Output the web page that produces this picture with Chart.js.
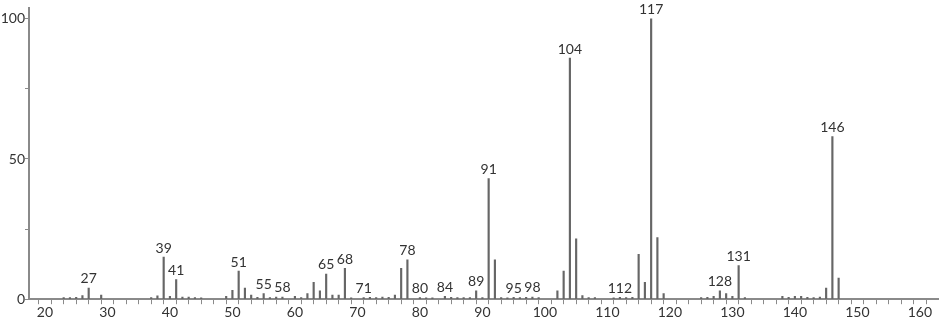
<!DOCTYPE html>
<html>
<head>
<meta charset="utf-8">
<script src="https://cdn.jsdelivr.net/npm/chart.js@4.4.1/dist/chart.umd.min.js"></script>
<style>
  html, body { margin: 0; padding: 0; background: #fff; }
  #wrap { width: 940px; height: 320px; position: relative; }
</style>
</head>
<body>
<div id="wrap"><canvas id="msChart"></canvas></div>
<script>
// m/z values and relative intensities
const masses = [23, 24, 25, 26, 27, 29, 37, 38, 39, 40, 41, 42, 43, 44, 45,
  49, 50, 51, 52, 53, 54, 55, 56, 57, 58, 60, 61, 62, 63, 64, 65, 66, 67, 68,
  69, 71, 72, 73, 74, 75, 76, 77, 78, 80, 81, 82, 84, 85, 86, 87, 88, 89, 90,
  91, 92, 93, 94, 95, 96, 97, 98, 99, 102, 103, 104, 105, 106, 107, 108, 111,
  112, 113, 114, 115, 116, 117, 118, 119, 125, 126, 127, 128, 129, 130, 131,
  132, 138, 139, 140, 141, 142, 143, 144, 145, 146, 147];
const intensities = [0.6, 0.6, 0.7, 1.3, 4, 1.5, 0.6, 1.2, 15, 1, 7, 0.8, 0.8, 0.6, 0.5,
  1, 3.2, 10, 4, 1.5, 0.7, 2, 0.6, 0.8, 0.8, 1, 0.6, 2, 6, 3, 9, 1.5, 1.5, 11,
  0.5, 0.6, 0.7, 0.6, 0.8, 0.7, 1.5, 11, 14, 0.6, 0.5, 0.5, 1, 0.7, 0.6, 0.6, 0.6, 3, 0.6,
  43, 14, 0.6, 0.5, 0.7, 0.6, 0.7, 0.8, 0.6, 3, 10, 86, 21.5, 1.3, 0.6, 0.6, 0.5,
  0.7, 0.6, 0.7, 16, 6, 100, 22, 2, 0.6, 0.7, 1, 3, 2, 1, 12,
  0.6, 1, 0.7, 1, 1, 0.7, 0.6, 0.8, 4, 58, 7.5];
// peaks carrying a mass label
const labelledMasses = [27, 39, 41, 51, 55, 58, 65, 68, 71, 78, 80, 84, 89, 91, 95, 98,
  104, 112, 117, 128, 131, 146];
const xLabelTicks = [20, 30, 40, 50, 60, 70, 80, 90, 100, 110, 120, 130, 140, 150, 160];
const yLabelTicks = [0, 50, 100];

const FONT = "Lato, 'Open Sans', sans-serif";
const AXIS_GREY = '#8a8a8a';

// mass numbers above the labelled peaks
const peakLabels = {
  id: 'peakLabels',
  afterDatasetsDraw(chart) {
    const meta = chart.getDatasetMeta(0);
    const ctx = chart.ctx;
    ctx.save();
    ctx.font = '14px ' + FONT;
    ctx.fillStyle = '#333';
    ctx.textAlign = 'center';
    ctx.textBaseline = 'bottom';
    labelledMasses.forEach(m => {
      const i = masses.indexOf(m);
      if (i < 0) return;
      const el = meta.data[i];
      ctx.fillText(String(m), el.x, el.y - 2);
    });
    ctx.restore();
  }
};

new Chart(document.getElementById('msChart'), {
  type: 'bar',
  data: {
    datasets: [{
      data: masses.map((m, i) => ({ x: m, y: intensities[i] })),
      backgroundColor: '#666',
      barThickness: 1.5,
      grouped: false
    }]
  },
  options: {
    responsive: true,
    maintainAspectRatio: false,
    animation: false,
    events: [],
    layout: { padding: { left: 0, right: 2, top: 0, bottom: -1 } },
    plugins: { legend: { display: false }, tooltip: { enabled: false } },
    scales: {
      x: {
        type: 'linear',
        min: 17.45,
        max: 162.9,
        offset: false,
        afterBuildTicks: axis => {
          const t = [];
          for (let v = 18; v <= 162; v += 2) t.push({ value: v });
          axis.ticks = t;
        },
        ticks: {
          autoSkip: false,
          maxRotation: 0,
          padding: 0,
          color: '#333',
          font: { family: FONT, size: 14 },
          callback: v => xLabelTicks.includes(v) ? String(v) : ''
        },
        grid: {
          drawOnChartArea: false,
          tickLength: 5,
          tickColor: AXIS_GREY,
          tickWidth: 1
        },
        border: { color: AXIS_GREY, width: 2 }
      },
      y: {
        min: 0,
        max: 103.7,
        afterFit: axis => { axis.width = 29; },
        afterBuildTicks: axis => {
          axis.ticks = [0, 25, 50, 75, 100].map(v => ({ value: v }));
        },
        ticks: {
          autoSkip: false,
          padding: 0,
          color: '#333',
          font: { family: FONT, size: 14 },
          callback: v => yLabelTicks.includes(v) ? String(v) : ''
        },
        grid: {
          drawOnChartArea: false,
          tickLength: 4,
          tickColor: AXIS_GREY,
          tickWidth: 1
        },
        border: { color: AXIS_GREY, width: 2 }
      }
    }
  },
  plugins: [peakLabels]
});
</script>
</body>
</html>
